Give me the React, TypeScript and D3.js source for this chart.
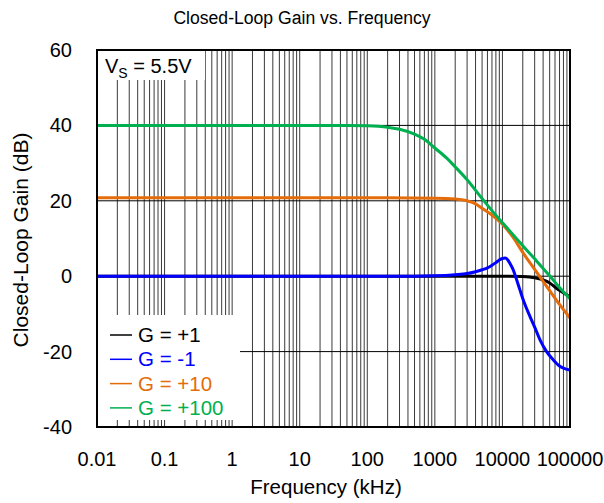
import React from "react";
import * as d3 from "d3";

const title = "Closed-Loop Gain vs. Frequency";
const xTitle = "Frequency (kHz)";
const yTitle = "Closed-Loop Gain (dB)";
const xTickValues = [0.01, 0.1, 1, 10, 100, 1000, 10000, 100000];
const xTickLabels = ["0.01", "0.1", "1", "10", "100", "1000", "10000", "100000"];
const yTickValues = [-40, -20, 0, 20, 40, 60];
const yGridValues = [-20, 0, 20, 40];

const seriesNames = ["G = +1", "G = -1", "G = +10", "G = +100"];
const seriesColors = ["#000000", "#0000FF", "#E46C0A", "#00B050"];

const gPlus1: [number, number][] = [
  [0.01, 0], [1000, 0], [10000, 0], [20000, -0.1], [30000, -0.4], [40000, -1],
  [50000, -1.8], [63000, -3.2], [80000, -4.4], [100000, -5.5],
];
const gMinus1: [number, number][] = [
  [0.01, 0], [100, 0], [500, 0], [1000, 0.1], [2000, 0.4], [3000, 0.7], [4000, 1.2],
  [5000, 1.7], [6000, 2.2], [7000, 2.9], [8000, 3.6], [9000, 4.3], [10000, 4.7],
  [11000, 4.8], [12000, 4.3], [13000, 3.3], [14500, 1.6], [16000, -0.6], [18200, -3.7],
  [21000, -7], [25600, -10.7], [30000, -13.5], [36000, -16.9], [45000, -20],
  [56600, -22.2], [70000, -23.8], [80000, -24.4], [100000, -24.9],
];
const gPlus10: [number, number][] = [
  [0.01, 20.8], [100, 20.8], [1000, 20.7], [2000, 20.5], [3000, 20], [4000, 19.2],
  [5000, 18], [7000, 16.2], [10000, 13.8], [15000, 9.8], [20000, 6.3], [30000, 1.8],
  [50000, -3.8], [70000, -7.5], [100000, -11.1],
];
const gPlus100: [number, number][] = [
  [0.01, 40], [10, 40], [50, 40], [100, 39.9], [200, 39.5], [300, 39], [500, 37.7],
  [700, 36.3], [1000, 34], [1500, 31.3], [2000, 29], [3000, 25.6], [5000, 20.6],
  [7000, 17.4], [10000, 14.2], [15000, 10.6], [20000, 8.1], [30000, 4.6],
  [50000, 0.1], [70000, -3], [100000, -6],
];
const seriesData = [gPlus1, gMinus1, gPlus10, gPlus100];

const W = 604;
const H = 503;
const left = 97, right = 570, top = 50, bottom = 427;

export default function App() {
  const x = d3.scaleLog().domain([0.01, 100000]).range([left, right]);
  const y = d3.scaleLinear().domain([-40, 60]).range([bottom, top]);
  const line = d3
    .line<[number, number]>()
    .x((d) => x(d[0]))
    .y((d) => y(d[1]))
    .curve(d3.curveMonotoneX);

  const vGrid: number[] = [];
  for (let e = -2; e <= 4; e++) {
    for (let m = 1; m <= 9; m++) vGrid.push(m * Math.pow(10, e));
  }
  vGrid.push(100000);

  const font = "Arial, 'Liberation Sans', sans-serif";
  const legendY0 = 335;
  const legendStep = 24.3;

  return (
    <svg
      width={W}
      height={H}
      style={{ position: "absolute", left: 0, top: 0, background: "#fff" }}
      fontFamily={font}
    >
      <rect x={0} y={0} width={W} height={H} fill="#fff" />
      <text x={302} y={24} textAnchor="middle" fontSize={17.6} fill="#000">
        {title}
      </text>
      <defs>
        <clipPath id="plotclip">
          <rect x={left} y={top} width={right - left} height={bottom - top} />
        </clipPath>
      </defs>
      <g>
        {vGrid.map((v, i) => (
          <line key={"v" + i} x1={x(v)} x2={x(v)} y1={top} y2={bottom} stroke="#3a3a3a" strokeWidth={1} />
        ))}
        {yGridValues.map((v) => (
          <line key={"h" + v} x1={left} x2={right} y1={y(v)} y2={y(v)} stroke="#000" strokeWidth={1} />
        ))}
      </g>
      {/* annotation boxes */}
      <rect x={left} y={top} width={205 - left} height={80 - top} fill="#fff" />
      <rect x={left} y={315} width={240 - left} height={420 - 315} fill="#fff" />
      <g clipPath="url(#plotclip)">
        {seriesData.map((s, i) => (
          <path
            key={"s" + i}
            d={line(s) || ""}
            fill="none"
            stroke={seriesColors[i]}
            strokeWidth={3}
            strokeLinejoin="round"
          />
        ))}
      </g>
      <rect x={left} y={top} width={right - left} height={bottom - top} fill="none" stroke="#000" strokeWidth={2} />
      {/* VS label */}
      <text x={105} y={73} fontSize={20} fill="#000">
        V<tspan dy={5} fontSize={14}>S</tspan>
        <tspan dy={-5}> = 5.5V</tspan>
      </text>
      {/* legend */}
      {seriesNames.map((n, i) => {
        const cy = legendY0 + i * legendStep;
        return (
          <g key={"l" + i}>
            <line x1={110} x2={132} y1={cy} y2={cy} stroke={seriesColors[i]} strokeWidth={1.5} />
            <text x={138} y={cy + 7} fontSize={20.5} fill={seriesColors[i]}>
              {n}
            </text>
          </g>
        );
      })}
      {/* y ticks */}
      {yTickValues.map((v) => (
        <text key={"yt" + v} x={72} y={y(v) + 7} textAnchor="end" fontSize={20} fill="#000">
          {v}
        </text>
      ))}
      {/* x ticks */}
      {xTickValues.map((v, i) => (
        <text key={"xt" + v} x={x(v)} y={466} textAnchor="middle" fontSize={20} fill="#000">
          {xTickLabels[i]}
        </text>
      ))}
      <text x={326} y={494} textAnchor="middle" fontSize={20.5} fill="#000">
        {xTitle}
      </text>
      <text
        transform={`translate(28,240) rotate(-90)`}
        textAnchor="middle"
        fontSize={21}
        fill="#000"
      >
        {yTitle}
      </text>
    </svg>
  );
}
